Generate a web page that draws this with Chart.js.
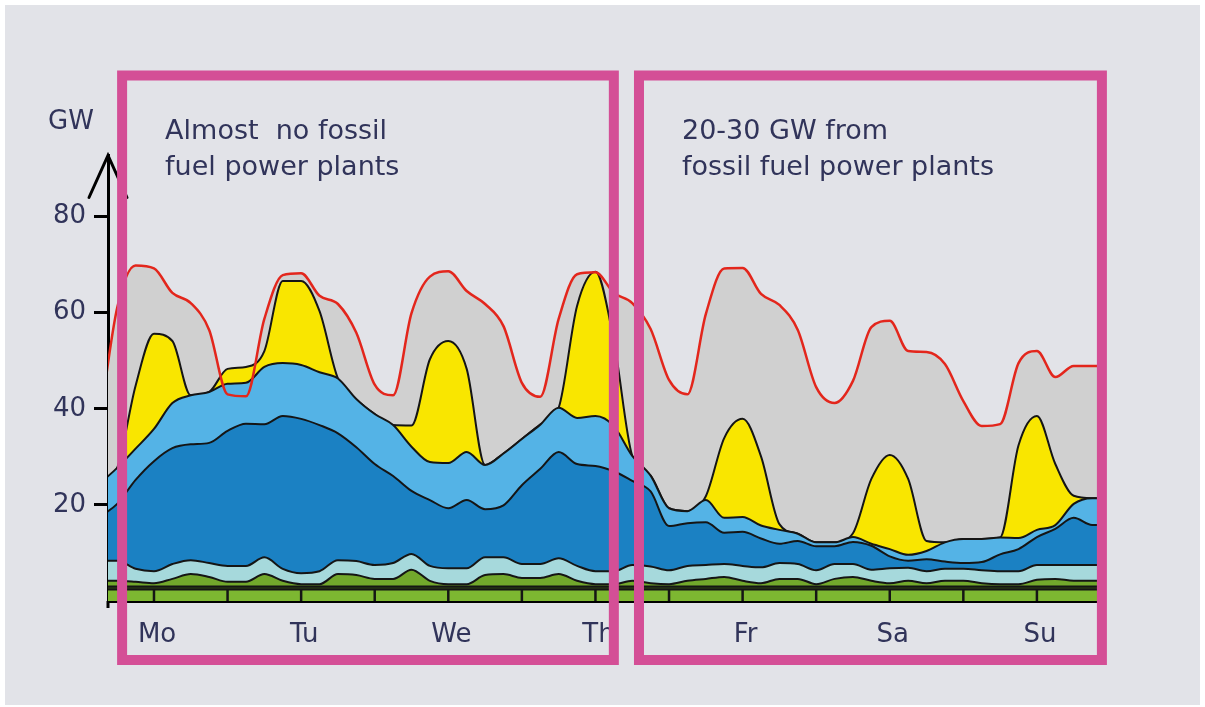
<!DOCTYPE html>
<html>
<head>
<meta charset="utf-8">
<script src="https://cdn.jsdelivr.net/npm/chart.js@4.4.0/dist/chart.umd.min.js"></script>
<style>
  html, body { margin: 0; padding: 0; background: #ffffff; }
  #wrap { width: 1205px; height: 707px; }
</style>
</head>
<body>
<div id="wrap"><canvas id="chartCanvas" width="1205" height="707"></canvas></div>
<script>
// hours since Monday 00:00, one sample every 3 h
const hours = [
  3, 6, 9, 12, 15, 18, 21, 24,
  27, 30, 33, 36, 39, 42, 45, 48,
  51, 54, 57, 60, 63, 66, 69, 72,
  75, 78, 81, 84, 87, 90, 93, 96,
  99, 102, 105, 108, 111, 114, 117, 120,
  123, 126, 129, 132, 135, 138, 141, 144,
  147, 150, 153, 156, 159, 162, 165, 168
];

// layer thicknesses in GW, bottom to top
const baseGreen = [
  2.4, 2.4, 2.4, 2.4, 2.4, 2.4, 2.4, 2.4,
  2.4, 2.4, 2.4, 2.4, 2.4, 2.4, 2.4, 2.4,
  2.4, 2.4, 2.4, 2.4, 2.4, 2.4, 2.4, 2.4,
  2.4, 2.4, 2.4, 2.4, 2.4, 2.4, 2.4, 2.4,
  2.4, 2.4, 2.4, 2.4, 2.4, 2.4, 2.4, 2.4,
  2.4, 2.4, 2.4, 2.4, 2.4, 2.4, 2.4, 2.4,
  2.4, 2.4, 2.4, 2.4, 2.4, 2.4, 2.4, 2.4
];
const darkOlive = [
  0.6, 0.6, 0.6, 0.6, 0.6, 0.6, 0.6, 0.6,
  0.6, 0.6, 0.6, 0.6, 0.6, 0.6, 0.6, 0.6,
  0.6, 0.6, 0.6, 0.6, 0.6, 0.6, 0.6, 0.6,
  0.6, 0.6, 0.6, 0.6, 0.6, 0.6, 0.6, 0.6,
  0.6, 0.6, 0.6, 0.6, 0.6, 0.6, 0.6, 0.6,
  0.6, 0.6, 0.6, 0.6, 0.6, 0.6, 0.6, 0.6,
  0.6, 0.6, 0.6, 0.6, 0.6, 0.6, 0.6, 0.6
];
const greenBumps = [
  1.2, 1.2, 1.0, 0.7, 1.6, 2.6, 2.0, 1.0,
  1.0, 2.6, 1.2, 0.5, 0.5, 2.6, 2.4, 1.6,
  1.6, 3.5, 1.2, 0.5, 0.5, 2.4, 2.6, 1.8,
  1.8, 2.6, 1.2, 0.5, 0.5, 1.2, 0.7, 0.5,
  1.2, 1.6, 2.0, 1.2, 0.7, 1.6, 1.6, 0.5,
  1.6, 2.0, 1.2, 0.7, 1.2, 0.7, 1.2, 1.2,
  0.7, 0.5, 0.5, 1.4, 1.6, 1.2, 1.2, 1.2
];
const paleCyan = [
  4.2, 4.2, 2.7, 2.5, 3.1, 2.9, 2.9, 3.3,
  3.3, 3.5, 2.5, 2.3, 2.7, 2.9, 2.9, 2.9,
  3.3, 3.3, 3.1, 3.3, 3.3, 3.7, 3.5, 2.9,
  2.9, 3.3, 3.1, 2.7, 2.7, 3.3, 3.5, 2.9,
  3.1, 2.9, 2.7, 3.1, 3.3, 3.3, 3.1, 2.9,
  3.1, 2.7, 2.3, 3.1, 2.7, 2.5, 2.5, 2.5,
  2.7, 2.7, 2.7, 3.1, 2.9, 3.3, 3.3, 3.3
];
const darkBlue = [
  9.0, 11.8, 18.5, 22.9, 24.1, 24.1, 25.0, 28.1,
  29.6, 27.7, 31.8, 32.1, 30.4, 26.4, 23.7, 21.0,
  18.1, 13.1, 13.7, 12.5, 14.2, 10.0, 10.8, 16.4,
  19.8, 22.1, 21.2, 21.9, 20.8, 17.5, 15.6, 9.2,
  8.9, 8.9, 6.5, 7.1, 6.0, 4.0, 4.8, 5.0,
  3.7, 4.6, 5.0, 2.5, 1.5, 2.5, 1.5, 1.2,
  1.7, 3.5, 4.6, 5.8, 7.5, 9.8, 8.3, 8.3
];
const lightBlue = [
  6.9, 7.5, 6.5, 6.7, 9.4, 10.2, 10.6, 9.8,
  8.5, 11.9, 11.0, 11.2, 11.0, 11.4, 10.0, 10.4,
  10.6, 9.2, 7.9, 9.4, 10.0, 9.2, 10.8, 9.6,
  9.2, 9.2, 9.6, 10.4, 9.4, 5.2, 3.3, 3.7,
  2.5, 4.6, 3.1, 3.1, 2.7, 2.9, 1.5, 0.8,
  0.8, 1.0, 0.4, 1.5, 1.2, 1.7, 4.0, 5.0,
  4.8, 3.5, 2.3, 1.5, 0.8, 2.9, 5.6, 5.6
];
const solar = [
  0, 0, 13.1, 19.8, 12.9, 0, 0, 3.1,
  3.3, 3.3, 17.1, 17.5, 12.7, 0, 0, 0,
  0, 4.4, 21.4, 25.4, 17.3, 0, 0, 0,
  0, 0, 23.3, 30.0, 17.7, 0, 0, 0,
  0, 0.8, 16.6, 20.4, 14.4, 1.2, 0, 0,
  0, 0.8, 13.5, 19.6, 15.8, 2.1, 0, 0,
  0, 0, 19.3, 23.7, 12.7, 1.7, 0, 0
];
// total consumption (red line), GW
const load = [
  36.0, 61.0, 69.8, 69.2, 64.1, 62.0, 56.4, 43.0,
  42.6, 58.7, 67.8, 68.2, 63.5, 61.8, 55.8, 45.0,
  42.8, 59.9, 67.5, 68.6, 64.5, 61.8, 57.2, 45.4,
  42.5, 58.7, 68.0, 68.4, 64.1, 62.0, 56.6, 46.0,
  43.0, 59.7, 69.2, 69.3, 63.9, 61.6, 56.4, 44.5,
  41.2, 45.8, 57.0, 58.3, 52.0, 51.8, 49.3, 41.6,
  36.4, 36.8, 49.5, 52.0, 46.6, 48.9, 48.9, 48.9
];

const dayTicks = [12.5, 36.5, 60.5, 84.5, 108.5, 132.5, 156.5];
const dayLabels = ['Mo', 'Tu', 'We', 'Th', 'Fr', 'Sa', 'Su'];
const yTicks = [20, 40, 60, 80];
const baseTickHours = [12, 24, 36, 48, 60, 72, 84, 96, 108, 120, 132, 144, 156];

const boxes = [
  { from: 6.8, to: 87.0, lines: ['Almost  no fossil', 'fuel power plants'] },
  { from: 91.1, to: 166.6, lines: ['20-30 GW from', 'fossil fuel power plants'] }
];

const textColor = '#31345a';
const borderBlack = '#151515';

function xy(arr) {
  return arr.map((v, i) => ({ x: hours[i], y: v }));
}

function layer(label, arr, color, fill) {
  return {
    label: label,
    data: xy(arr),
    backgroundColor: color,
    borderColor: borderBlack,
    borderWidth: 2,
    fill: fill,
    stack: 'mix',
    pointRadius: 0,
    cubicInterpolationMode: 'monotone'
  };
}

const overlayPlugin = {
  id: 'overlay',
  beforeDraw(chart) {
    const ctx = chart.ctx;
    ctx.save();
    ctx.fillStyle = '#ffffff';
    ctx.fillRect(0, 0, chart.width, chart.height);
    ctx.fillStyle = '#e2e3e8';
    ctx.fillRect(5, 5, chart.width - 10, chart.height - 7);
    ctx.restore();
  },
  afterDatasetsDraw(chart) {
    // small separators in the bottom green band
    const { ctx, scales: { x, y } } = chart;
    ctx.save();
    ctx.strokeStyle = borderBlack;
    ctx.lineWidth = 2.5;
    const y0 = y.getPixelForValue(0);
    const y1 = y.getPixelForValue(baseGreen[0]);
    baseTickHours.forEach(h => {
      const px = x.getPixelForValue(h);
      ctx.beginPath();
      ctx.moveTo(px, y0);
      ctx.lineTo(px, y1);
      ctx.stroke();
    });
    ctx.restore();
  },
  afterDraw(chart) {
    const { ctx, chartArea, scales: { x } } = chart;
    ctx.save();

    // y axis arrow head and small overhang
    ctx.strokeStyle = '#000';
    ctx.lineWidth = 3;
    ctx.lineCap = 'round';
    ctx.lineJoin = 'miter';
    const ax = chartArea.left;
    ctx.beginPath();
    ctx.moveTo(ax - 19, chartArea.top + 42);
    ctx.lineTo(ax, chartArea.top);
    ctx.lineTo(ax + 19, chartArea.top + 42);
    ctx.stroke();
    ctx.lineCap = 'butt';
    ctx.beginPath();
    ctx.moveTo(ax, chartArea.bottom);
    ctx.lineTo(ax, chartArea.bottom + 7);
    ctx.stroke();

    // unit
    ctx.fillStyle = textColor;
    ctx.font = '26px "DejaVu Sans"';
    ctx.textAlign = 'left';
    ctx.textBaseline = 'middle';
    ctx.fillText('GW', 48, 122);

    // pink frames with notes
    ctx.strokeStyle = '#d44f96';
    ctx.lineWidth = 10;
    ctx.lineCap = 'butt';
    ctx.lineJoin = 'miter';
    boxes.forEach(b => {
      const x1 = x.getPixelForValue(b.from);
      const x2 = x.getPixelForValue(b.to);
      ctx.strokeRect(x1, 75.5, x2 - x1, 584.5);
      ctx.fillStyle = textColor;
      ctx.font = '27px "DejaVu Sans"';
      ctx.textBaseline = 'alphabetic';
      b.lines.forEach((t, i) => ctx.fillText(t, x1 + 43, 139 + i * 36));
    });
    ctx.restore();
  }
};

Chart.defaults.font.family = '"DejaVu Sans", sans-serif';

new Chart(document.getElementById('chartCanvas'), {
  type: 'line',
  data: {
    datasets: [
      layer('Green base', baseGreen, '#7db731', 'origin'),
      layer('Dark green', darkOlive, '#2f4514', '-1'),
      layer('Light green', greenBumps, '#72a82c', '-1'),
      layer('Pale cyan', paleCyan, '#a6d9dc', '-1'),
      layer('Dark blue', darkBlue, '#1b81c3', '-1'),
      layer('Light blue', lightBlue, '#54b3e6', '-1'),
      layer('Solar', solar, '#f9e600', '-1'),
      {
        label: 'Conventional',
        data: xy(load),
        backgroundColor: '#d0d0d0',
        borderWidth: 0,
        fill: 'origin',
        stack: 'fill',
        order: 1,
        pointRadius: 0,
        cubicInterpolationMode: 'monotone'
      },
      {
        label: 'Consumption',
        data: xy(load),
        borderColor: '#e3261c',
        borderWidth: 2.5,
        fill: false,
        stack: 'line',
        order: -1,
        pointRadius: 0,
        cubicInterpolationMode: 'monotone'
      }
    ]
  },
  options: {
    responsive: false,
    animation: false,
    devicePixelRatio: 1,
    events: [],
    layout: { padding: { top: 155.5, right: 108, bottom: 0, left: 0 } },
    plugins: {
      legend: { display: false },
      tooltip: { enabled: false },
      title: { display: false }
    },
    scales: {
      x: {
        type: 'linear',
        min: 4.5,
        max: 165.8,
        z: 1,
        afterBuildTicks: s => { s.ticks = dayTicks.map(v => ({ value: v })); },
        afterFit: s => { s.height = 106; },
        ticks: {
          autoSkip: false,
          maxRotation: 0,
          padding: 11,
          color: textColor,
          font: { size: 26 },
          callback: v => dayLabels[dayTicks.indexOf(v)]
        },
        grid: { display: false },
        border: { display: true, color: '#000', width: 3 }
      },
      y: {
        stacked: true,
        min: 0,
        max: 92.7,
        z: 1,
        afterBuildTicks: s => { s.ticks = yTicks.map(v => ({ value: v })); },
        afterFit: s => { s.width = 108; },
        ticks: {
          padding: 8,
          color: textColor,
          font: { size: 26 }
        },
        grid: {
          drawOnChartArea: false,
          drawTicks: true,
          tickLength: 14,
          tickColor: '#000',
          tickWidth: 3
        },
        border: { display: true, color: '#000', width: 3 }
      }
    }
  },
  plugins: [overlayPlugin]
});
</script>
</body>
</html>
